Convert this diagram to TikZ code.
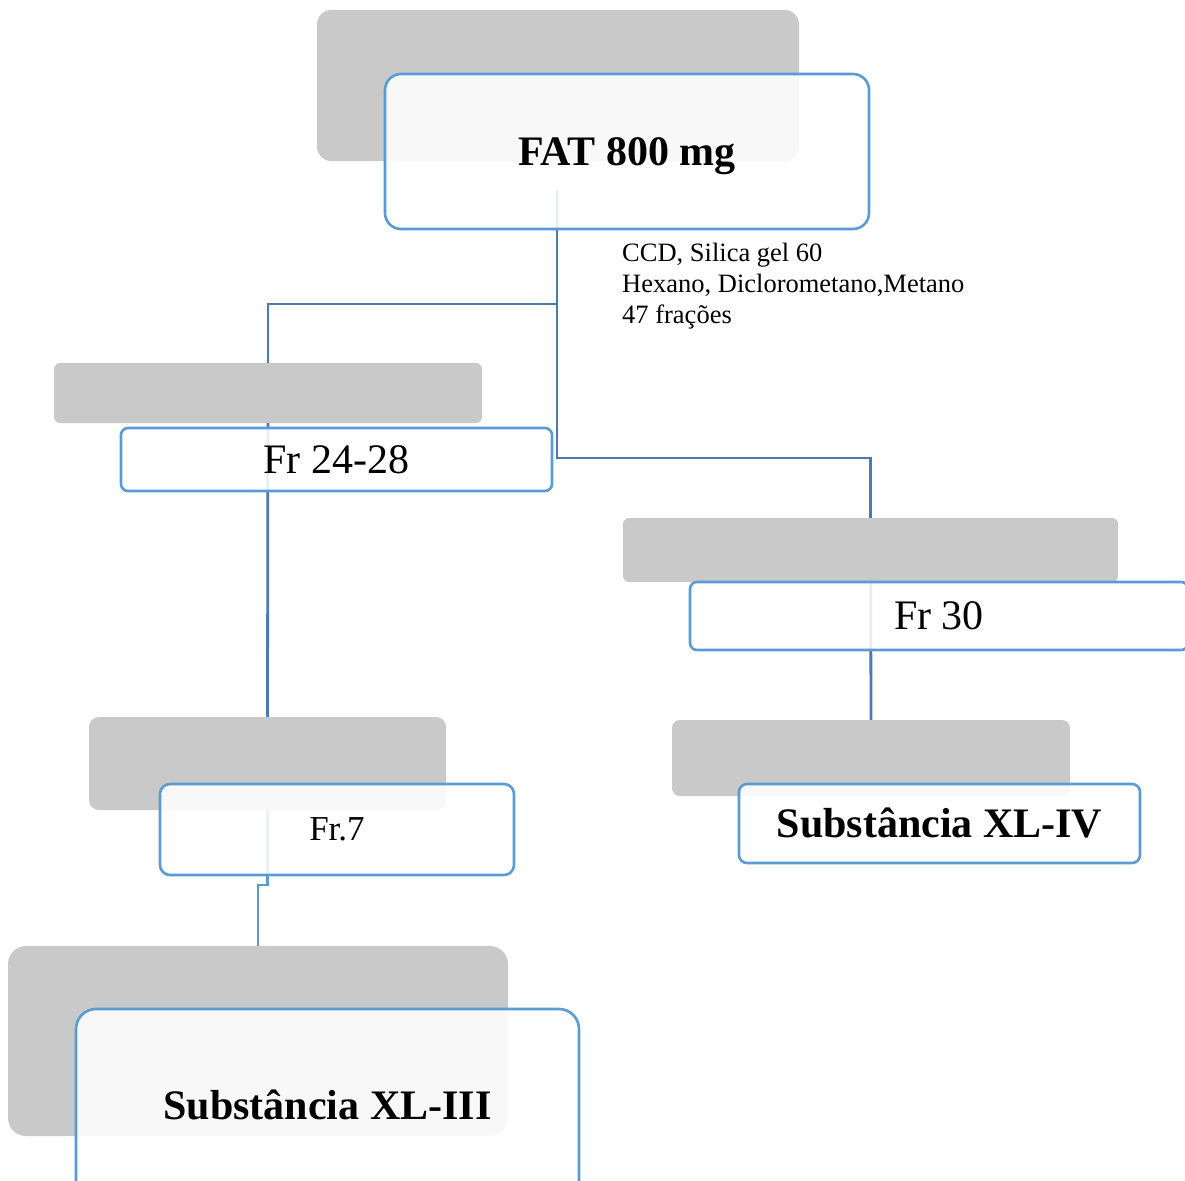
\documentclass[tikz,border=0pt]{standalone}
\usepackage{fontspec}
\setmainfont{Liberation Serif}
\definecolor{boxgray}{HTML}{C9C9C9}
\definecolor{boxblue}{HTML}{5B9BD5}
\definecolor{connblue}{HTML}{4A7AB0}
\pgfdeclarelayer{bg}
\pgfsetlayers{bg,main}
\begin{document}
\begin{tikzpicture}[x=1pt,y=-1pt,
  gbox/.style={fill=boxgray, draw=none, inner sep=0pt, outer sep=0pt},
  wbox/.style={fill=white, fill opacity=0.88, text opacity=1, draw=boxblue, line width=2.6pt, inner sep=0pt, outer sep=0pt},
  conn/.style={draw=connblue, line width=2.8pt},
  conntwo/.style={draw=boxblue, line width=2.8pt},
  big/.style={font=\fontsize{42}{50}\selectfont},
  bigb/.style={font=\fontsize{42}{50}\selectfont\bfseries},
  small/.style={font=\fontsize{26.5}{31}\selectfont}
]
\path[use as bounding box] (0,0) rectangle (1185,1180);
\clip (0,0) rectangle (1185,1180);

% FAT 800 mg
\node[gbox, rounded corners=14pt, minimum width=482pt, minimum height=151pt] (g1) at (558,85.5) {};
\node[wbox, rounded corners=16pt, minimum width=484pt, minimum height=155pt, bigb, text depth=0pt] (w1) at (627,151.5) {FAT 800 mg};

% Fr 24-28
\node[gbox, rounded corners=6pt, minimum width=428pt, minimum height=60pt] (g2) at (268,393) {};
\node[wbox, rounded corners=7pt, minimum width=431pt, minimum height=63pt, big] (w2) at (336.5,459.5) {Fr 24-28};

% Fr 30
\node[gbox, rounded corners=6pt, minimum width=495pt, minimum height=64pt] (g3) at (870.5,550) {};
\node[wbox, rounded corners=7pt, minimum width=498pt, minimum height=68pt, big] (w3) at (939,616) {Fr 30};

% Substancia XL-IV
\node[gbox, rounded corners=8pt, minimum width=398pt, minimum height=76pt] (g4) at (871,758) {};
\node[wbox, rounded corners=8pt, minimum width=401pt, minimum height=79pt, bigb] (w4) at (939.5,823.5) {Substância XL-IV};

% Fr.7
\node[gbox, rounded corners=10pt, minimum width=357pt, minimum height=93pt] (g5) at (267.5,763.5) {};
\node[wbox, rounded corners=10pt, minimum width=354pt, minimum height=91pt, font=\fontsize{35}{42}\selectfont] (w5) at (337,829.5) {Fr.7};

% Substancia XL-III
\node[gbox, rounded corners=18pt, minimum width=500pt, minimum height=190pt] (g6) at (258,1041) {};
\node[wbox, rounded corners=20pt, minimum width=503pt, minimum height=192pt, bigb] (w6) at (327.5,1105) {Substância XL-III};

% label
\node[small, anchor=north west, align=left, inner sep=0pt] (lab) at (622,243) {CCD, Silica gel 60\\Hexano, Diclorometano,Metano\\47 frações};

% connectors
\coordinate (j0) at (557,190);
\coordinate (j1) at (557,304);
\coordinate (j2) at (557,458);
\coordinate (j3) at (258,885);
\begin{pgfonlayer}{bg}
\draw[conn] (j0) -- (j1) -| (g2.north);
\draw[conn] (j1) -- (j2) -| (g3.north);
\draw[conn] (g2.north) -- (g5.north);
\draw[conn] (g3.north) -- (g4.north);
\draw[conntwo] (g5.south) -- (g5.south |- j3) -| (g6.north);
\end{pgfonlayer}
\end{tikzpicture}
\end{document}
